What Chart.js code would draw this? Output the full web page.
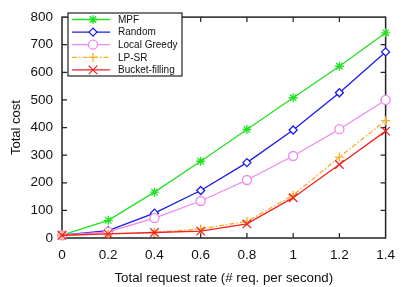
<!DOCTYPE html>
<html><head>
<script src="https://cdn.jsdelivr.net/npm/chart.js@4"></script>
<style>html,body{margin:0;padding:0;background:#fff}canvas{display:block}</style>
</head><body>
<canvas id="c" width="404" height="287"></canvas>
<script>
const rates=[0,0.2,0.4,0.6,0.8,1.0,1.2,1.4];
const seriesNames=['MPF','Random','Local Greedy','LP-SR','Bucket-filling'];
const mpf=[10,64,166,278,393,508,622,743];
const random=[10,27,90,172,273,391,526,674];
const localGreedy=[10,22,72,134,210,297,394,500];
const lpsr=[10,15,20,33,60,155,293,425];
const bucket=[10,15,20,25,51,146,266,387];
const yTicks=[0,100,200,300,400,500,600,700,800];
const xTicks=[0,0.2,0.4,0.6,0.8,1.0,1.2,1.4];
const xTickLabels=['0','0.2','0.4','0.6','0.8','1','1.2','1.4'];
const xTitle='Total request rate (# req. per second)';
const yTitle='Total cost';

const FONT='"Liberation Sans", Arial, sans-serif';
const styles=[
  {color:'#22e022',pointStyle:'star',radius:4.5,fill:'#22e022',dash:[]},
  {color:'#1a1aee',pointStyle:'rectRot',radius:4,fill:'#ffffff',dash:[]},
  {color:'#ee88ee',pointStyle:'circle',radius:4.5,fill:'#ffffff',dash:[]},
  {color:'#ffaa22',pointStyle:'cross',radius:4.5,fill:'#ffaa22',dash:[5,2,1.5,2]},
  {color:'#ee2222',pointStyle:'crossRot',radius:6,fill:'#ee2222',dash:[]}
];
const values=[mpf,random,localGreedy,lpsr,bucket];
const datasets=values.map((v,i)=>({
  label:seriesNames[i],
  data:rates.map((x,j)=>({x:x,y:v[j]})),
  borderColor:styles[i].color,
  backgroundColor:styles[i].fill,
  borderWidth:1.3,
  borderDash:styles[i].dash,
  pointStyle:styles[i].pointStyle,
  pointRadius:styles[i].radius,
  pointBorderWidth:1.3,
  pointBorderColor:styles[i].color,
  pointBackgroundColor:styles[i].fill,
  tension:0,
  clip:false
}));
datasets.reverse();

const framePlugin={
  id:'frame',
  beforeDatasetsDraw(chart){
    const ctx=chart.ctx, a=chart.chartArea, xs=chart.scales.x, ys=chart.scales.y;
    ctx.save();
    ctx.strokeStyle='#222';
    ctx.lineWidth=1.2;
    const L=5;
    ctx.beginPath();
    yTicks.forEach(t=>{
      if(t===0||t===800) return;
      const y=ys.getPixelForValue(t);
      ctx.moveTo(a.left,y);ctx.lineTo(a.left+L,y);
      ctx.moveTo(a.right,y);ctx.lineTo(a.right-L,y);
    });
    xTicks.forEach(t=>{
      if(t===0||t===1.4) return;
      const x=xs.getPixelForValue(t);
      ctx.moveTo(x,a.bottom);ctx.lineTo(x,a.bottom-L);
      ctx.moveTo(x,a.top);ctx.lineTo(x,a.top+L);
    });
    ctx.stroke();
    ctx.lineWidth=1.5;
    ctx.strokeRect(a.left,a.top,a.right-a.left,a.bottom-a.top);
    ctx.restore();
  },
  afterDatasetsDraw(chart){
    const ctx=chart.ctx;
    ctx.save();
    const bx=68,by=13,bw=114,bh=63;
    ctx.fillStyle='#fff';
    ctx.fillRect(bx,by,bw,bh);
    ctx.strokeStyle='#222';
    ctx.lineWidth=1.2;
    ctx.strokeRect(bx,by,bw,bh);
    ctx.font='10px '+FONT;
    ctx.textBaseline='middle';
    seriesNames.forEach((n,i)=>{
      const y=by+6.5+i*12.6;
      const s=styles[i];
      ctx.strokeStyle=s.color;
      ctx.lineWidth=1.3;
      ctx.setLineDash(s.dash);
      ctx.beginPath();ctx.moveTo(72,y);ctx.lineTo(110,y);ctx.stroke();
      ctx.setLineDash([]);
      ctx.fillStyle=s.fill;
      Chart.helpers.drawPoint(ctx,{pointStyle:s.pointStyle,radius:s.radius,rotation:0,borderWidth:1.3},93,y);
      ctx.fillStyle='#111';
      ctx.fillText(n,118,y+0.5);
    });
    ctx.restore();
  }
};

new Chart(document.getElementById('c'),{
  type:'line',
  data:{datasets:datasets},
  options:{
    responsive:false,
    animation:false,
    devicePixelRatio:1,
    layout:{padding:{left:0,right:11,top:7,bottom:0}},
    plugins:{legend:{display:false},tooltip:{enabled:false}},
    scales:{
      x:{
        type:'linear',min:0,max:1.4,
        grid:{display:false,drawTicks:false},
        border:{display:false},
        afterBuildTicks(s){s.ticks=xTicks.map(v=>({value:v}));},
        afterFit(s){s.height=49;},
        ticks:{padding:9,color:'#111',font:{family:FONT,size:13.5},
          callback:(v,i)=>xTickLabels[i]},
        title:{display:true,text:xTitle,color:'#111',font:{family:FONT,size:13.3},padding:{top:2,bottom:1}}
      },
      y:{
        type:'linear',min:0,max:800,
        grid:{display:false,drawTicks:false},
        border:{display:false},
        afterBuildTicks(s){s.ticks=yTicks.map(v=>({value:v}));},
        afterFit(s){s.width=62;},
        ticks:{padding:9,color:'#111',font:{family:FONT,size:13.5},
          callback:(v)=>String(v)},
        title:{display:true,text:yTitle,color:'#111',font:{family:FONT,size:13},padding:{top:9,bottom:2}}
      }
    }
  },
  plugins:[framePlugin]
});
</script>
</body></html>
